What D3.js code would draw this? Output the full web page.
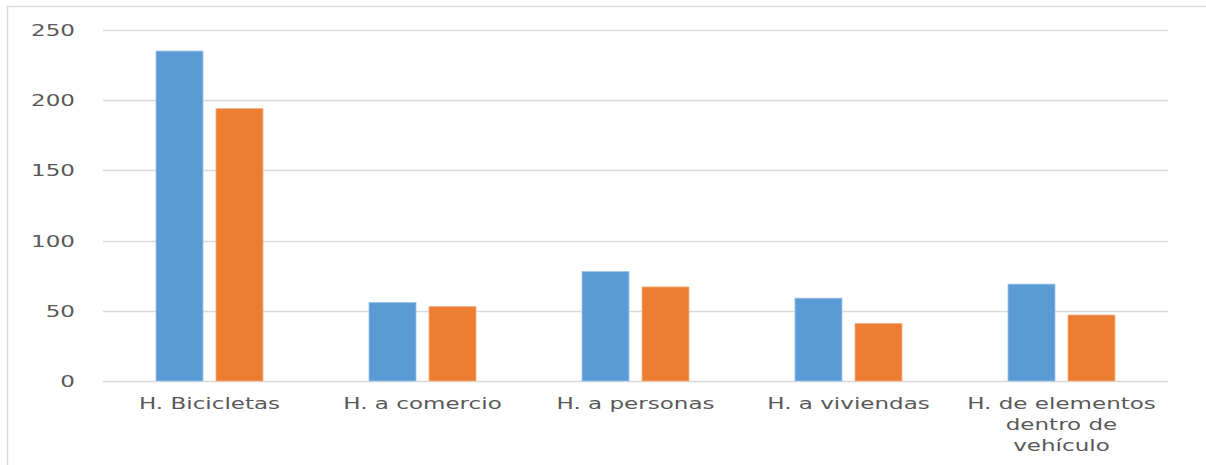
<!DOCTYPE html>
<html><head><meta charset="utf-8">
<script src="https://cdn.jsdelivr.net/npm/d3@7"></script>
<style>body{margin:0;background:#fff}svg{display:block}</style>
</head><body>
<svg id="c" width="1206" height="465"></svg>
<script>
const categories = ["H. Bicicletas","H. a comercio","H. a personas","H. a viviendas","H. de elementos dentro de vehículo"];
const series1 = [235, 56, 78, 59, 69];
const series2 = [194, 53, 67, 41, 47];
const yTicks = [0, 50, 100, 150, 200, 250];
const colors = ["#5B9BD5", "#ED7D31"];

const svg = d3.select("#c");
const W = 1206, H = 465;
const m = {left: 103, right: 38, top: 30, bottom: 84};
const SX = 1.44;
const textColor = "#595959";

// chart border (top and left visible)
svg.append("path").attr("d", `M7.5,${H} L7.5,6.5 L${W},6.5`).attr("fill","none").attr("stroke","#D9D9D9").attr("stroke-width",1.5);

const x = d3.scaleBand().domain(categories).range([m.left, W - m.right]).paddingInner(0).paddingOuter(0);
const y = d3.scaleLinear().domain([0, 250]).range([381, 30]);

// gridlines
svg.append("g").selectAll("line").data(yTicks).join("line")
  .attr("x1", m.left).attr("x2", W - m.right)
  .attr("y1", d => Math.round(y(d)) + 0.5).attr("y2", d => Math.round(y(d)) + 0.5)
  .attr("stroke", "#D9D9D9").attr("stroke-width", 1.5);

// y labels
svg.append("g").selectAll("text").data(yTicks).join("text")
  .attr("transform", d => `translate(75,${y(d) + 6}) scale(${SX},1)`)
  .attr("text-anchor", "end")
  .attr("font-family", "DejaVu Sans").attr("font-size", 16).attr("fill", textColor)
  .text(d => d);

const bw = 47, gap = 13;
const series = [series1, series2];
series.forEach((vals, si) => {
  svg.append("g").selectAll("rect").data(vals).join("rect")
    .attr("x", (d, i) => x(categories[i]) + x.bandwidth() / 2 + (si === 0 ? -(gap / 2 + bw) : gap / 2))
    .attr("y", d => y(d))
    .attr("width", bw)
    .attr("height", d => y(0) - y(d))
    .attr("fill", colors[si])
    .attr("stroke", si === 0 ? "#9DC3E6" : "#F4B183").attr("stroke-width", 0.8);
});

// x labels with wrapping
const maxW = 205;
const xl = svg.append("g");
categories.forEach(c => {
  const words = c.split(" ");
  const lines = [];
  let cur = "";
  const meas = xl.append("text").attr("font-family","DejaVu Sans").attr("font-size",16).attr("visibility","hidden");
  words.forEach(w => {
    const t = cur ? cur + " " + w : w;
    meas.text(t);
    if (meas.node().getComputedTextLength() * SX > maxW && cur) { lines.push(cur); cur = w; }
    else cur = t;
  });
  lines.push(cur);
  meas.remove();
  const cx = x(c) + x.bandwidth() / 2;
  lines.forEach((ln, li) => {
    xl.append("text")
      .attr("transform", `translate(${cx},${409 + li * 21}) scale(${SX},1)`)
      .attr("text-anchor", "middle")
      .attr("font-family", "DejaVu Sans").attr("font-size", 16).attr("fill", textColor)
      .text(ln);
  });
});
</script>
</body></html>
